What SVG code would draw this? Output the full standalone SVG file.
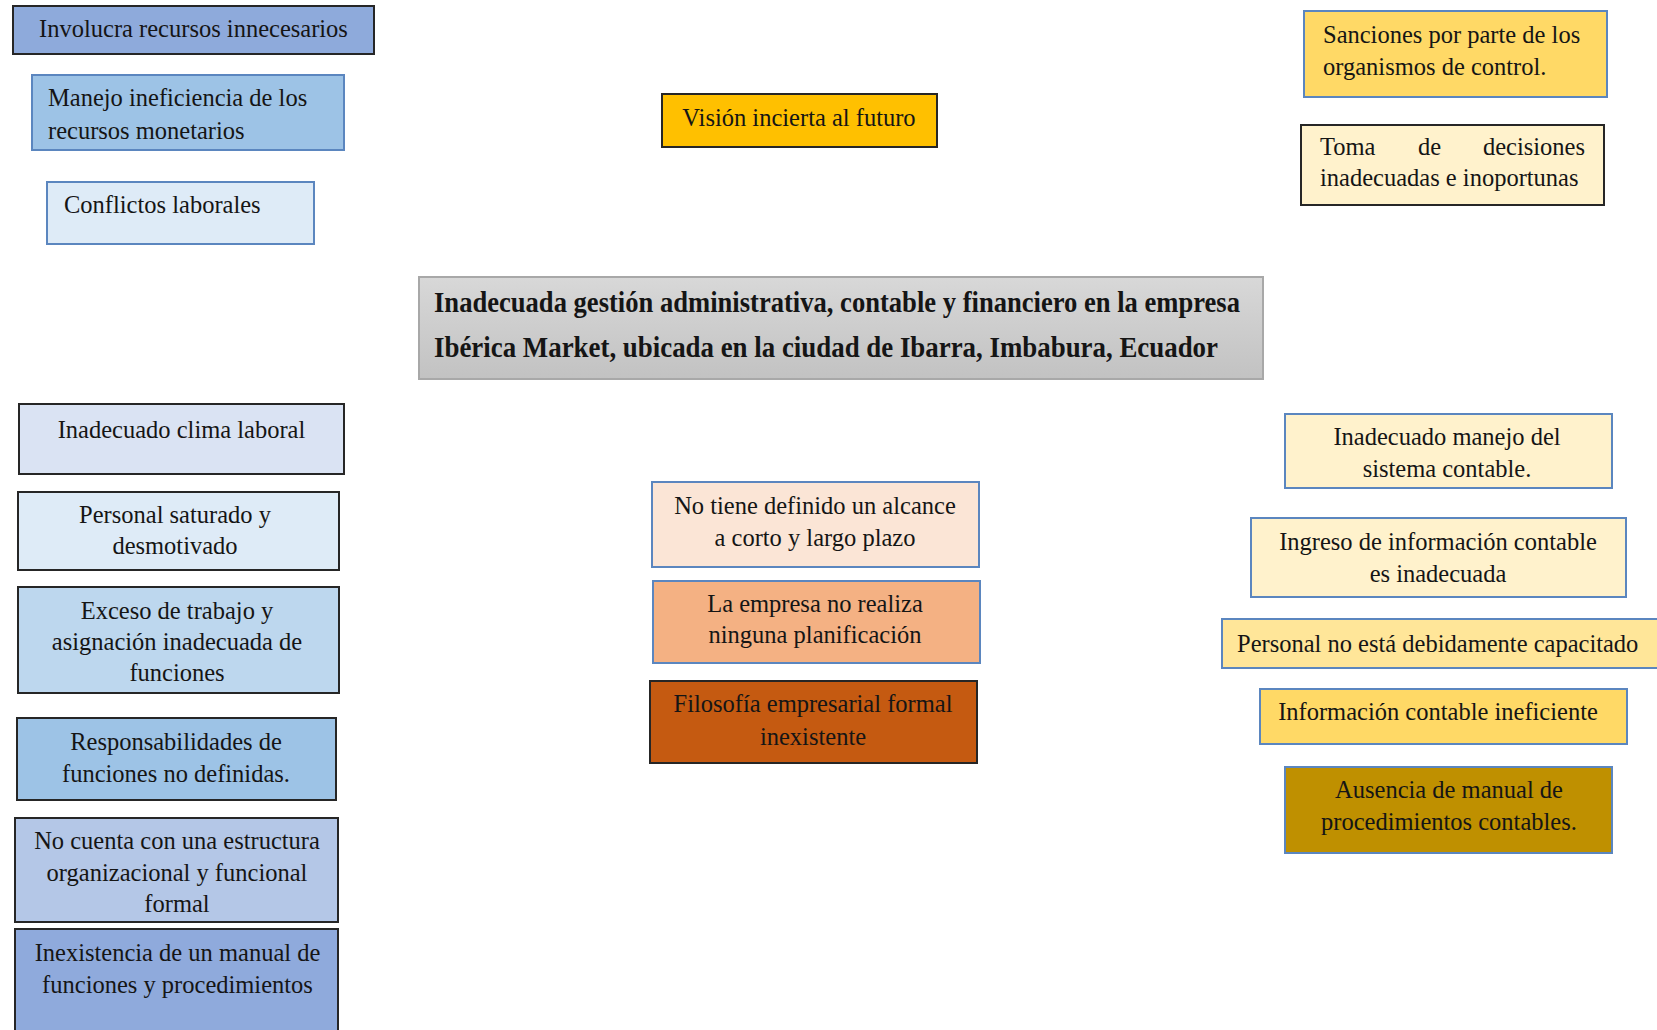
<svg xmlns="http://www.w3.org/2000/svg" width="1657" height="1030" viewBox="0 0 1657 1030">
  <defs>
    <linearGradient id="grayFill" x1="0" y1="0" x2="0" y2="1">
      <stop offset="0" stop-color="#D8D8D8"/>
      <stop offset="1" stop-color="#C2C2C2"/>
    </linearGradient>
    <style>
      .box { stroke-width: 2; }
      .dk { stroke: #262626; }
      .bl { stroke: #5B86BF; }
      .t { font-family: "Liberation Serif", "Times New Roman", serif; font-size: 24.5px; fill: #151515; }
      .c { text-anchor: middle; }
      .title { font-family: "Liberation Serif", "Times New Roman", serif; font-size: 28.5px; font-weight: bold; fill: #151515; }
    </style>
  </defs>
  <rect width="1657" height="1030" fill="#FFFFFF"/>

  <!-- no connectors are drawn in this diagram -->
  <g id="connectors"/>

  <!-- left column, top: effects -->
  <g id="involucra">
    <rect class="box dk" x="13" y="6" width="361" height="48" fill="#8EAADB"/>
    <text class="t c" x="193.5" y="37">Involucra recursos innecesarios</text>
  </g>
  <g id="manejo">
    <rect class="box bl" x="32" y="75" width="312" height="75" fill="#9DC3E6"/>
    <text class="t" x="48" y="106">Manejo ineficiencia de los</text>
    <text class="t" x="48" y="139">recursos monetarios</text>
  </g>
  <g id="conflictos">
    <rect class="box bl" x="47" y="182" width="267" height="62" fill="#DEEBF7"/>
    <text class="t" x="64" y="213">Conflictos laborales</text>
  </g>

  <!-- centre, top -->
  <g id="vision">
    <rect class="box dk" x="662" y="94" width="275" height="53" fill="#FFC000"/>
    <text class="t c" x="799" y="126">Visión incierta al futuro</text>
  </g>

  <!-- right column, top -->
  <g id="sanciones">
    <rect class="box bl" x="1304" y="11" width="303" height="86" fill="#FFD966"/>
    <text class="t" x="1323" y="43">Sanciones por parte de los</text>
    <text class="t" x="1323" y="75">organismos de control.</text>
  </g>
  <g id="toma">
    <rect class="box dk" x="1301" y="125" width="303" height="80" fill="#FFF2CC"/>
    <text class="t" x="1320" y="155">Toma</text>
    <text class="t" x="1418" y="155">de</text>
    <text class="t" x="1585" y="155" text-anchor="end">decisiones</text>
    <text class="t" x="1320" y="186">inadecuadas e inoportunas</text>
  </g>

  <!-- central problem -->
  <g id="problema">
    <rect x="419" y="277" width="844" height="102" fill="url(#grayFill)" stroke="#A8A8A8" stroke-width="2"/>
    <text class="title" x="434" y="312" textLength="806" lengthAdjust="spacingAndGlyphs">Inadecuada gestión administrativa, contable y financiero en la empresa</text>
    <text class="title" x="434" y="357" textLength="784" lengthAdjust="spacingAndGlyphs">Ibérica Market, ubicada en la ciudad de Ibarra, Imbabura, Ecuador</text>
  </g>

  <!-- left column, bottom: causes -->
  <g id="clima">
    <rect class="box dk" x="19" y="404" width="325" height="70" fill="#DAE3F3"/>
    <text class="t c" x="181.5" y="438">Inadecuado clima laboral</text>
  </g>
  <g id="saturado">
    <rect class="box dk" x="18" y="492" width="321" height="78" fill="#DEEBF7"/>
    <text class="t c" x="175" y="523">Personal saturado y</text>
    <text class="t c" x="175" y="554">desmotivado</text>
  </g>
  <g id="exceso">
    <rect class="box dk" x="18" y="587" width="321" height="106" fill="#BDD7EE"/>
    <text class="t c" x="177" y="619">Exceso de trabajo y</text>
    <text class="t c" x="177" y="650">asignación inadecuada de</text>
    <text class="t c" x="177" y="681">funciones</text>
  </g>
  <g id="responsabilidades">
    <rect class="box dk" x="17" y="718" width="319" height="82" fill="#9DC3E6"/>
    <text class="t c" x="176" y="750">Responsabilidades de</text>
    <text class="t c" x="176" y="782">funciones no definidas.</text>
  </g>
  <g id="estructura">
    <rect class="box dk" x="15" y="818" width="323" height="104" fill="#B4C7E7"/>
    <text class="t c" x="177" y="849">No cuenta con una estructura</text>
    <text class="t c" x="177" y="881">organizacional y funcional</text>
    <text class="t c" x="177" y="912">formal</text>
  </g>
  <g id="inexistencia">
    <rect class="box dk" x="15" y="929" width="323" height="115" fill="#8FAADC"/>
    <text class="t c" x="177.5" y="961">Inexistencia de un manual de</text>
    <text class="t c" x="177.5" y="993">funciones y procedimientos</text>
  </g>

  <!-- centre, bottom -->
  <g id="alcance">
    <rect class="box bl" x="652" y="482" width="327" height="85" fill="#FBE5D6"/>
    <text class="t c" x="815" y="514">No tiene definido un alcance</text>
    <text class="t c" x="815" y="546">a corto y largo plazo</text>
  </g>
  <g id="planificacion">
    <rect class="box bl" x="653" y="581" width="327" height="82" fill="#F4B183"/>
    <text class="t c" x="815" y="612">La empresa no realiza</text>
    <text class="t c" x="815" y="643">ninguna planificación</text>
  </g>
  <g id="filosofia">
    <rect class="box dk" x="650" y="681" width="327" height="82" fill="#C55A11"/>
    <text class="t c" x="813" y="712">Filosofía empresarial formal</text>
    <text class="t c" x="813" y="745">inexistente</text>
  </g>

  <!-- right column, bottom -->
  <g id="sistema">
    <rect class="box bl" x="1285" y="414" width="327" height="74" fill="#FFF2CC"/>
    <text class="t c" x="1447" y="445">Inadecuado manejo del</text>
    <text class="t c" x="1447" y="477">sistema contable.</text>
  </g>
  <g id="ingreso">
    <rect class="box bl" x="1251" y="518" width="375" height="79" fill="#FFF2CC"/>
    <text class="t c" x="1438" y="550">Ingreso de información contable</text>
    <text class="t c" x="1438" y="582">es inadecuada</text>
  </g>
  <g id="capacitado">
    <rect class="box bl" x="1222" y="619" width="450" height="49" fill="#FFE699"/>
    <text class="t" x="1237" y="652">Personal no está debidamente capacitado</text>
  </g>
  <g id="informacion">
    <rect class="box bl" x="1260" y="689" width="367" height="55" fill="#FFD966"/>
    <text class="t c" x="1438" y="720">Información contable ineficiente</text>
  </g>
  <g id="ausencia">
    <rect class="box bl" x="1285" y="767" width="327" height="86" fill="#BF9000"/>
    <text class="t c" x="1449" y="798">Ausencia de manual de</text>
    <text class="t c" x="1449" y="830">procedimientos contables.</text>
  </g>
</svg>
